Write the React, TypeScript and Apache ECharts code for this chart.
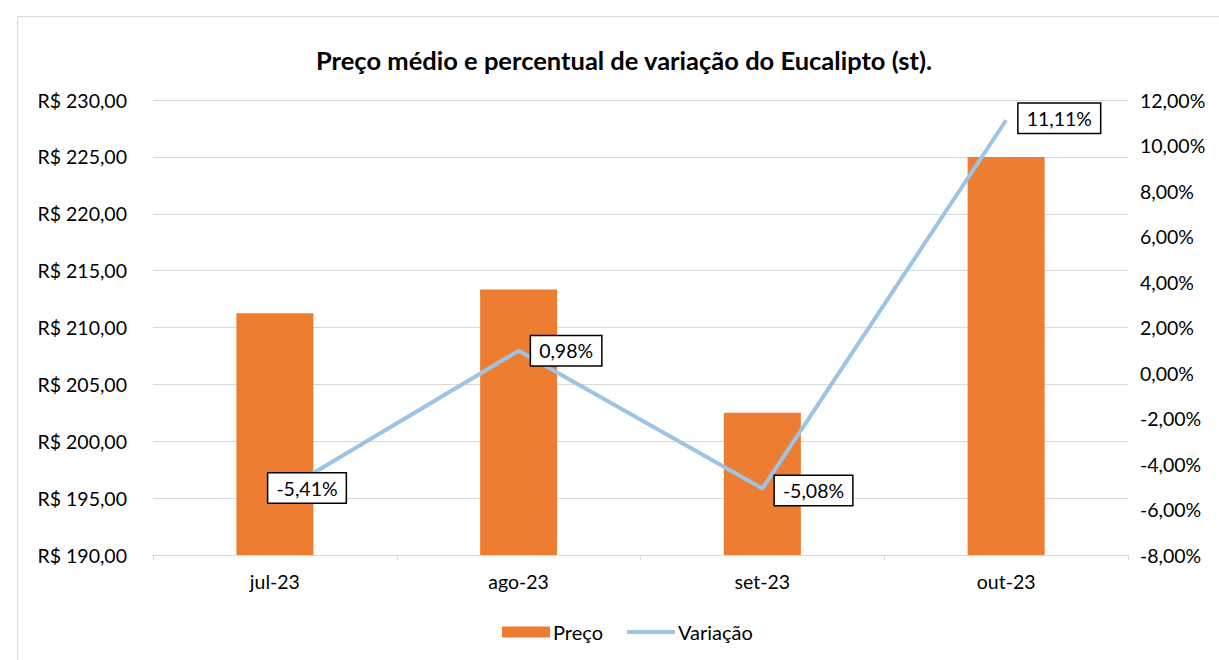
import React, { useEffect, useRef } from "react";
import * as echarts from "echarts";

const categories = ["jul-23", "ago-23", "set-23", "out-23"];
const precoValues = [211.25, 213.33, 202.5, 225.0];
const variacaoValues = [-5.41, 0.98, -5.08, 11.11];
const titleText = "Preço médio e percentual de variação do Eucalipto (st).";

const brl = (v: number) => "R$ " + v.toFixed(2).replace(".", ",");
const pct = (v: number) => v.toFixed(2).replace(".", ",") + "%";

const FONT = "Lato, 'Open Sans', sans-serif";

export default function App() {
  const ref = useRef<HTMLDivElement>(null);
  useEffect(() => {
    if (!ref.current) return;
    const chart = echarts.init(ref.current, undefined, { renderer: "svg" });
    const labelOffsets = [[-19, -8], [0, 0], [0, 2], [0, -2]];
    chart.setOption({
      animation: false,
      backgroundColor: "#fff",
      textStyle: { fontFamily: FONT },
      title: {
        text: titleText,
        left: 619,
        textAlign: "center",
        top: 42,
        textStyle: { fontSize: 25.5, fontWeight: "bold", color: "#000", fontFamily: FONT },
      },
      graphic: [
        {
          type: "rect",
          shape: { x: 17.5, y: 16.5, width: 1300, height: 700 },
          style: { fill: "none", stroke: "#d9d9d9", lineWidth: 1 },
          silent: true,
        },
      ],
      legend: {
        bottom: 13,
        left: 497,
        itemGap: 22,
        itemWidth: 48,
        itemHeight: 11,
        textStyle: { fontSize: 20, color: "#000", fontFamily: FONT, padding: [0, 0, 0, -2] },
        data: [
          { name: "Preço", icon: "rect" },
          {
            name: "Variação",
            itemStyle: { opacity: 0 },
            lineStyle: { width: 4, color: "#9DC3E6" },
          },
        ],
      },
      grid: { left: 153, right: 91, top: 100, bottom: 105, containLabel: false },
      xAxis: {
        type: "category",
        data: categories,
        axisLine: { onZero: false, lineStyle: { color: "#d9d9d9" } },
        axisTick: { show: true, alignWithLabel: false, length: 5, lineStyle: { color: "#d9d9d9" } },
        axisLabel: { fontSize: 19.5, color: "#000", margin: 16, fontFamily: FONT },
      },
      yAxis: [
        {
          type: "value",
          min: 190,
          max: 230,
          interval: 5,
          axisLine: { show: false },
          axisTick: { show: false },
          splitLine: { lineStyle: { color: "#d9d9d9", width: 1 } },
          axisLabel: { fontSize: 19.5, color: "#000", margin: 26, formatter: brl, fontFamily: FONT },
        },
        {
          type: "value",
          min: -8,
          max: 12,
          interval: 2,
          axisLine: { show: false },
          axisTick: { show: false },
          splitLine: { show: false },
          axisLabel: { fontSize: 19.5, color: "#000", margin: 12, formatter: pct, fontFamily: FONT },
        },
      ],
      series: [
        {
          name: "Preço",
          type: "bar",
          data: precoValues,
          barWidth: 77,
          itemStyle: { color: "#ED7D31" },
          yAxisIndex: 0,
        },
        {
          name: "Variação",
          type: "line",
          yAxisIndex: 1,
          data: variacaoValues,
          symbol: "none",
          lineStyle: { color: "#9DC3E6", width: 4 },
          itemStyle: { color: "#9DC3E6" },
          z: 3,
        },
        {
          name: "VariacaoLabels",
          type: "scatter",
          yAxisIndex: 1,
          symbolSize: 1,
          itemStyle: { color: "rgba(0,0,0,0)", opacity: 1 },
          z: 5,
          data: variacaoValues.map((v, i) => ({
            value: [categories[i], v],
            label: { offset: labelOffsets[i] },
          })),
          label: {
            show: true,
            position: "right",
            distance: 12,
            formatter: (p: any) => pct(p.value[1]),
            fontSize: 19.5,
            color: "#000",
            fontFamily: FONT,
            backgroundColor: "#fff",
            borderColor: "#000",
            borderWidth: 1.5,
            padding: [6, 8, 3, 8],
          },
        },
      ],
    });
    return () => chart.dispose();
  }, []);
  return (
    <div
      ref={ref}
      style={{ position: "absolute", left: 0, top: 0, width: 1219, height: 660 }}
    />
  );
}
